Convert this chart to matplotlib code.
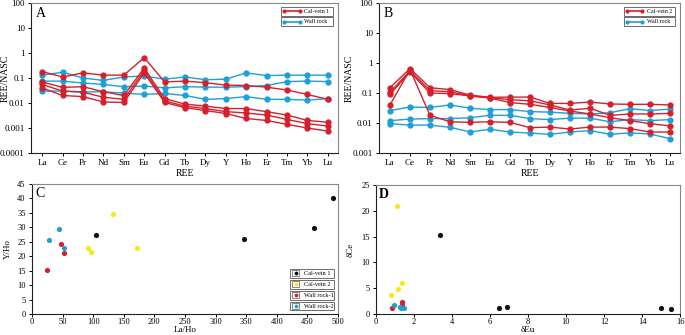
import numpy as np
import matplotlib
matplotlib.use("Agg")
import matplotlib.pyplot as plt
from matplotlib.patches import Rectangle

plt.rcParams['font.family'] = ['Liberation Serif', 'DejaVu Serif']
plt.rcParams['font.size'] = 6.5

# === Data ===
ree = ["La", "Ce", "Pr", "Nd", "Sm", "Eu", "Gd", "Tb", "Dy", "Y", "Ho", "Er", "Tm", "Yb", "Lu"]

# panel A: Cal-vein 1 vs wall rock (REE/NASC)
calvein1 = [
    [0.18, 0.11, 0.16, 0.13, 0.13, 0.65, 0.07, 0.075, 0.065, 0.052, 0.05, 0.043, 0.033, 0.022, 0.014],
    [0.07, 0.042, 0.045, 0.028, 0.02, 0.25, 0.015, 0.009, 0.0075, 0.006, 0.006, 0.0045, 0.0033, 0.002, 0.0017],
    [0.055, 0.03, 0.027, 0.017, 0.014, 0.2, 0.012, 0.0075, 0.006, 0.0045, 0.004, 0.0033, 0.0022, 0.0015, 0.0012],
    [0.04, 0.02, 0.018, 0.011, 0.0105, 0.16, 0.0105, 0.0065, 0.005, 0.0038, 0.0024, 0.002, 0.0014, 0.001, 0.00075],
]
wallrock_a = [
    [0.13, 0.17, 0.1, 0.08, 0.11, 0.12, 0.09, 0.11, 0.085, 0.09, 0.16, 0.125, 0.13, 0.13, 0.13],
    [0.075, 0.075, 0.063, 0.055, 0.045, 0.048, 0.04, 0.045, 0.043, 0.043, 0.045, 0.05, 0.072, 0.075, 0.072],
    [0.03, 0.03, 0.028, 0.028, 0.025, 0.022, 0.024, 0.02, 0.014, 0.015, 0.018, 0.014, 0.014, 0.013, 0.015],
]

# panel B: Cal-vein 2 vs wall rock
calvein2 = [
    [0.15, 0.65, 0.15, 0.13, 0.085, 0.072, 0.073, 0.073, 0.045, 0.045, 0.05, 0.043, 0.042, 0.042, 0.04],
    [0.105, 0.55, 0.12, 0.11, 0.08, 0.07, 0.06, 0.055, 0.04, 0.027, 0.031, 0.018, 0.02, 0.02, 0.021],
    [0.09, 0.5, 0.1, 0.095, 0.08, 0.068, 0.048, 0.042, 0.033, 0.025, 0.02, 0.015, 0.012, 0.0095, 0.008],
    [0.04, 0.6, 0.018, 0.011, 0.0105, 0.011, 0.0105, 0.007, 0.0073, 0.0063, 0.0073, 0.0073, 0.0065, 0.005, 0.005],
]
wallrock_b = [
    [0.026, 0.034, 0.033, 0.04, 0.031, 0.028, 0.028, 0.024, 0.023, 0.021, 0.02, 0.022, 0.03, 0.026, 0.029],
    [0.012, 0.0135, 0.014, 0.014, 0.015, 0.018, 0.018, 0.014, 0.013, 0.0145, 0.0145, 0.011, 0.013, 0.012, 0.013],
    [0.0095, 0.0085, 0.0085, 0.0072, 0.005, 0.0062, 0.005, 0.0046, 0.0042, 0.005, 0.0056, 0.0042, 0.0047, 0.0043, 0.003],
]

# panel C: La/Ho vs Y/Ho
c_groups = ["Cal-vein 1", "Cal-vein 2", "Wall rock-1", "Wall rock-2"]
c_laho = [[105, 346, 460, 492], [133, 92, 97, 171], [47, 52, 25], [27, 44, 52]]
c_yho = [[27.3, 26.0, 29.6, 40.3], [34.6, 22.7, 21.3, 22.9], [24.1, 21.1, 15.3], [25.6, 29.3, 22.8]]

# panel D: dEu vs dCe
d_eu = [[3.35, 6.45, 6.9, 15.0, 15.5], [1.1, 0.77, 1.17, 1.37], [0.85, 1.37, 1.35], [0.93, 1.25, 1.33, 1.45]]
d_ce = [[15.3, 1.08, 1.27, 1.08, 1.0], [20.9, 3.67, 4.94, 5.95], [1.2, 2.34, 1.7], [1.7, 1.33, 1.25, 1.14]]

RED = "#d4202c"
BLUE = "#1e9fd8"
YEL = "#f7e81c"
group_colors = ["#111111", YEL, RED, BLUE]

W, H = 685, 335
fig = plt.figure(figsize=(W / 100, H / 100), dpi=100)


def px_axes(x0, y0, x1, y1):
    return fig.add_axes([x0 / W, (H - y1) / H, (x1 - x0) / W, (y1 - y0) / H])


def style(ax, size=6.5):
    for s in ["top", "right"]:
        ax.spines[s].set_color("#888888")
    for s in ["left", "bottom"]:
        ax.spines[s].set_color("#222222")
    for s in ax.spines.values():
        s.set_linewidth(0.8)
    ax.tick_params(direction="out", length=2.5, width=0.7, labelsize=size, pad=2)
    ax.minorticks_off()


def line_legend(ax, labels, colors, x0, x1, tops, h):
    for lab, col, top in zip(labels, colors, tops):
        ax.add_patch(Rectangle((x0, top - h), x1 - x0, h, transform=ax.transAxes,
                               fill=False, lw=0.6, ec="#555555", clip_on=False))
        ax.plot([x0 + 0.01, x0 + 0.06], [top - h / 2] * 2, transform=ax.transAxes,
                color=col, lw=1.2, marker="o", ms=2, markevery=[0, 1])
        ax.text(x0 + 0.075, top - h / 2, lab, transform=ax.transAxes, fontsize=4.2,
                va="center", ha="left")


def ree_panel(ax, veins, walls, letter, vein_lab, ymin, ylab_x):
    x = np.arange(len(ree))
    for s in walls:
        ax.plot(x, s, color=BLUE, lw=1, marker="o", ms=3.5)
    for s in veins:
        ax.plot(x, s, color=RED, lw=1, marker="o", ms=3.5)
    ax.set_yscale("log")
    ax.set_ylim(ymin, 100)
    ax.set_xlim(-0.55, 14.5)
    ax.set_xticks(x)
    ax.set_xticklabels(ree)
    ticks = [10.0 ** k for k in range(int(np.log10(ymin)), 3)]
    ax.set_yticks(ticks)
    ax.set_yticklabels([("%g" % t) if t < 1 else str(int(t)) for t in ticks])
    ax.set_xlabel("REE", fontsize=7)
    ax.set_ylabel("REE/NASC", fontsize=7)
    ax.xaxis.set_label_coords(0.5, -0.105)
    ax.yaxis.set_label_coords(ylab_x, 0.5)
    style(ax)
    ax.text(0.015, 0.975, letter, transform=ax.transAxes, fontsize=10, va="top", ha="left")
    line_legend(ax, [vein_lab, "Wall rock"], [RED, BLUE], 0.815, 0.984, [0.973, 0.905], 0.058)


axA = px_axes(31, 3, 338, 153)
ree_panel(axA, calvein1, wallrock_a, "A", "Cal-vein 1", 0.0001, -0.068)

axB = px_axes(379, 3, 680, 153)
ree_panel(axB, calvein2, wallrock_b, "B", "Cal-vein 2", 0.001, -0.083)

# panel C
axC = px_axes(32, 184, 338, 314)
for xs, ys, col in zip(c_laho, c_yho, group_colors):
    axC.scatter(xs, ys, s=14, color=col, zorder=3, linewidths=0)
axC.set_xlim(0, 500)
axC.set_ylim(0, 45)
axC.set_xticks(np.arange(0, 501, 50))
axC.set_yticks(np.arange(0, 46, 5))
axC.set_xlabel("La/Ho", fontsize=6.5)
axC.set_ylabel("Y/Ho", fontsize=6.5)
style(axC, 6)
axC.tick_params(axis="x", length=2, pad=1)
axC.xaxis.set_label_coords(0.5, -0.09)
axC.yaxis.set_label_coords(-0.065, 0.5)
axC.text(0.01, 0.98, "C", transform=axC.transAxes, fontsize=10, va="top", ha="left")
bx0, bx1, bh = 0.843, 0.987, 0.066
for i, (lab, col) in enumerate(zip(c_groups, group_colors)):
    top = 0.345 - i * 0.084
    axC.add_patch(Rectangle((bx0, top - bh), bx1 - bx0, bh, transform=axC.transAxes,
                            fill=False, lw=0.6, ec="#555555"))
    axC.add_patch(Rectangle((bx0 + 0.008, top - bh + 0.01), 0.022, bh - 0.02,
                            transform=axC.transAxes, fill=False, lw=0.5, ec="#555555"))
    axC.scatter([bx0 + 0.019], [top - bh / 2], s=3, color=col, transform=axC.transAxes)
    axC.text(bx0 + 0.045, top - bh / 2, lab, transform=axC.transAxes, fontsize=4.5,
             va="center", ha="left")

# panel D
axD = px_axes(376, 185, 680, 314)
for xs, ys, col in zip(d_eu, d_ce, group_colors):
    axD.scatter(xs, ys, s=14, color=col, zorder=3, linewidths=0)
axD.set_xlim(0, 16)
axD.set_ylim(0, 25)
axD.set_xticks(np.arange(0, 17, 2))
axD.set_yticks(np.arange(0, 26, 5))
axD.set_xlabel("δEu", fontsize=6.5)
axD.set_ylabel("δCe", fontsize=6.5)
style(axD, 6)
axD.tick_params(axis="x", length=2, pad=1)
axD.xaxis.set_label_coords(0.5, -0.09)
axD.yaxis.set_label_coords(-0.069, 0.5)
axD.text(0.01, 0.98, "D", transform=axD.transAxes, fontsize=10, va="top", ha="left",
         fontweight="bold")

fig.savefig("out.png", dpi=100)
